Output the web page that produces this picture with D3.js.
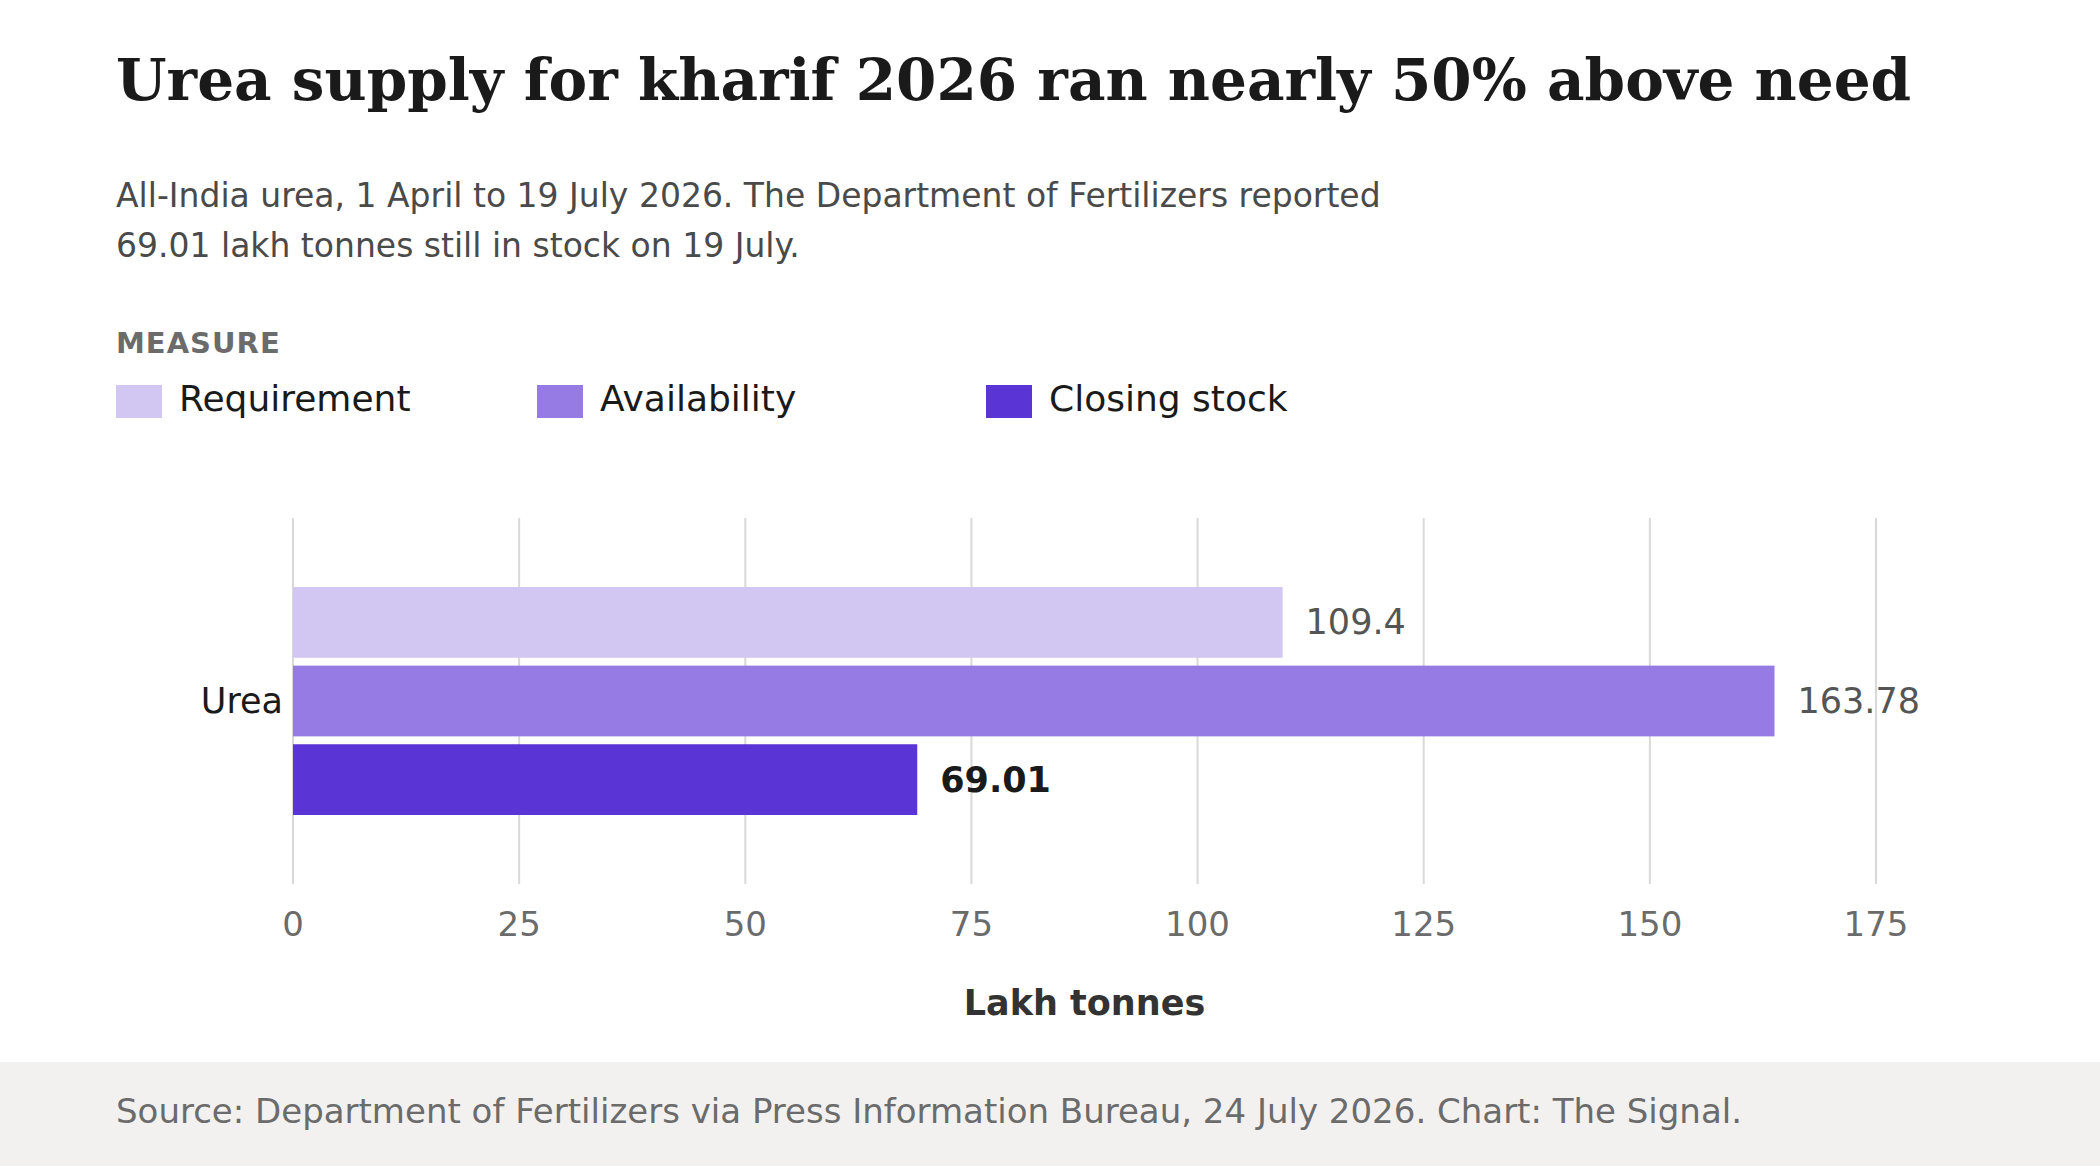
<!DOCTYPE html>
<html><head><meta charset="utf-8">
<script src="https://cdn.jsdelivr.net/npm/d3@7"></script>
<style>body{margin:0;background:#fff}</style>
</head><body>
<script>
// data
const categories = ["Urea"];
const measures = ["Requirement", "Availability", "Closing stock"];
const values = [109.4, 163.78, 69.01];
const valueLabels = ["109.4", "163.78", "69.01"];
const ticks = [0, 25, 50, 75, 100, 125, 150, 175];
const colors = ["#d2c6f2", "#967be5", "#5b34d6"];

const W = 2100, H = 1166;
const svg = d3.select("body").append("svg").attr("width", W).attr("height", H)
    .style("font-family", "'DejaVu Sans', sans-serif");

svg.append("text").attr("x", 116).attr("y", 100)
    .style("font-family", "'DejaVu Serif', serif").style("font-weight", "bold")
    .style("font-size", "58px").attr("fill", "#1a1a1a")
    .text("Urea supply for kharif 2026 ran nearly 50% above need");

["All-India urea, 1 April to 19 July 2026. The Department of Fertilizers reported",
 "69.01 lakh tonnes still in stock on 19 July."].forEach((t, i) => {
    svg.append("text").attr("x", 116).attr("y", 207 + i * 50)
        .style("font-size", "33px").attr("fill", "#4a4a4a").text(t);
});

svg.append("text").attr("x", 116).attr("y", 353).style("font-size", "29px")
    .style("font-weight", "bold").attr("fill", "#6b6b6b").attr("letter-spacing", "1")
    .text("MEASURE");

const legX = [116, 537, 986];
measures.forEach((m, i) => {
    svg.append("rect").attr("x", legX[i]).attr("y", 385).attr("width", 46).attr("height", 33)
        .attr("fill", colors[i]);
    svg.append("text").attr("x", legX[i] + 63).attr("y", 411).style("font-size", "36px")
        .attr("fill", "#1a1a1a").text(m);
});

// plot
const x = d3.scaleLinear().domain([0, 175]).range([293, 1876]);
const y = d3.scaleBand().domain(categories).range([518, 884]);
const inner = d3.scaleBand().domain(measures).range([0, 228]).paddingInner(0.1);
const top0 = y("Urea") + y.bandwidth() / 2 - 114;

svg.append("g").selectAll("line").data(ticks).join("line")
    .attr("x1", d => x(d)).attr("x2", d => x(d)).attr("y1", 518).attr("y2", 884)
    .attr("stroke", "#d9d9d9").attr("stroke-width", 2);

svg.append("g").selectAll("text").data(ticks).join("text")
    .attr("x", d => x(d)).attr("y", 936).attr("text-anchor", "middle")
    .style("font-size", "34px").attr("fill", "#6b6b6b").text(d => d);

svg.append("text").attr("x", (x(0) + x(175)) / 2).attr("y", 1015).attr("text-anchor", "middle")
    .style("font-size", "35px").style("font-weight", "bold").attr("fill", "#333")
    .text("Lakh tonnes");

svg.append("text").attr("x", 283).attr("y", y("Urea") + y.bandwidth() / 2 + 12)
    .attr("text-anchor", "end").style("font-size", "35px").attr("fill", "#1a1a1a")
    .text(categories[0]);

measures.forEach((m, i) => {
    svg.append("rect").attr("x", x(0)).attr("y", top0 + inner(m))
        .attr("width", x(values[i]) - x(0)).attr("height", inner.bandwidth())
        .attr("fill", colors[i]);
    svg.append("text").attr("x", x(values[i]) + 23)
        .attr("y", top0 + inner(m) + inner.bandwidth() / 2 + 12)
        .style("font-size", "35px")
        .style("font-weight", i === 2 ? "bold" : "normal")
        .attr("fill", i === 2 ? "#1a1a1a" : "#555")
        .text(valueLabels[i]);
});

svg.append("rect").attr("x", 0).attr("y", 1062).attr("width", W).attr("height", H - 1062)
    .attr("fill", "#f2f1f0");
svg.append("text").attr("x", 116).attr("y", 1123).style("font-size", "34px").attr("fill", "#6b6b6b")
    .text("Source: Department of Fertilizers via Press Information Bureau, 24 July 2026. Chart: The Signal.");
</script>
</body></html>
